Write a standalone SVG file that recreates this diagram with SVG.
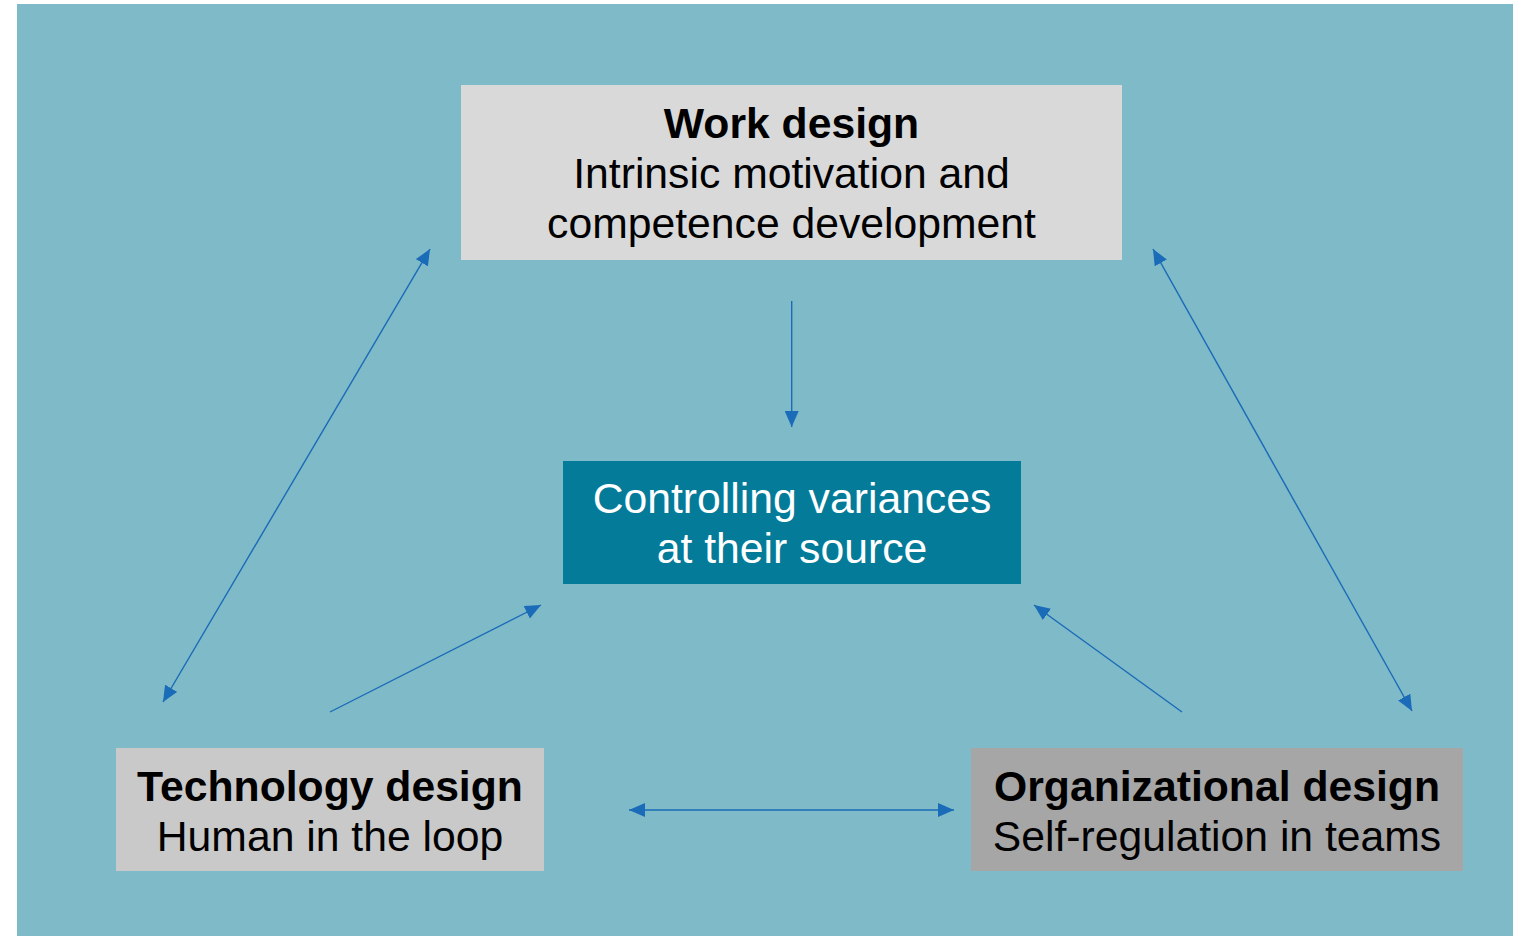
<svg xmlns="http://www.w3.org/2000/svg" width="1521" height="936" viewBox="0 0 1521 936">
  <style>
    .lbl { font-family: "Liberation Sans", Arial, sans-serif; font-size: 42.7px; fill: #000; text-anchor: middle; }
    .b { font-weight: bold; }
    .w { fill: #ffffff; }
    .conn { stroke: #1a6bb8; stroke-width: 1.4; fill: none; }
  </style>
  <defs>
    <marker id="ah" viewBox="0 0 16 14" refX="16" refY="7" markerWidth="16" markerHeight="14" markerUnits="userSpaceOnUse" orient="auto-start-reverse">
      <path d="M0,0 L16,7 L0,14 Z" fill="#1a6bb8"/>
    </marker>
  </defs>

  <rect x="0" y="0" width="1521" height="936" fill="#ffffff"/>
  <rect x="17" y="4" width="1496" height="932" fill="#7fbac8"/>

  <g id="work-design">
    <rect x="461" y="85" width="661" height="175" fill="#d9d9d9"/>
    <text class="lbl b" x="791.5" y="138">Work design</text>
    <text class="lbl" x="791.5" y="188">Intrinsic motivation and</text>
    <text class="lbl" x="791.5" y="238">competence development</text>
  </g>

  <g id="controlling-variances">
    <rect x="563" y="461" width="458" height="123" fill="#037b99"/>
    <text class="lbl w" x="792" y="513">Controlling variances</text>
    <text class="lbl w" x="792" y="563">at their source</text>
  </g>

  <g id="technology-design">
    <rect x="116" y="748" width="428" height="123" fill="#c9c9c9"/>
    <text class="lbl b" x="330" y="801">Technology design</text>
    <text class="lbl" x="330" y="851">Human in the loop</text>
  </g>

  <g id="organizational-design">
    <rect x="971" y="748" width="492" height="123" fill="#a6a6a6"/>
    <text class="lbl b" x="1217" y="801">Organizational design</text>
    <text class="lbl" x="1217" y="851">Self-regulation in teams</text>
  </g>

  <g id="connectors">
    <line class="conn" x1="163" y1="702" x2="430" y2="249" marker-start="url(#ah)" marker-end="url(#ah)"/>
    <line class="conn" x1="1153" y1="249" x2="1412" y2="711" marker-start="url(#ah)" marker-end="url(#ah)"/>
    <line class="conn" x1="629" y1="810" x2="954" y2="810" marker-start="url(#ah)" marker-end="url(#ah)"/>
    <line class="conn" x1="791.7" y1="301" x2="791.7" y2="427" marker-end="url(#ah)"/>
    <line class="conn" x1="330" y1="712" x2="541" y2="605" marker-end="url(#ah)"/>
    <line class="conn" x1="1182" y1="712" x2="1034" y2="605" marker-end="url(#ah)"/>
  </g>
</svg>
